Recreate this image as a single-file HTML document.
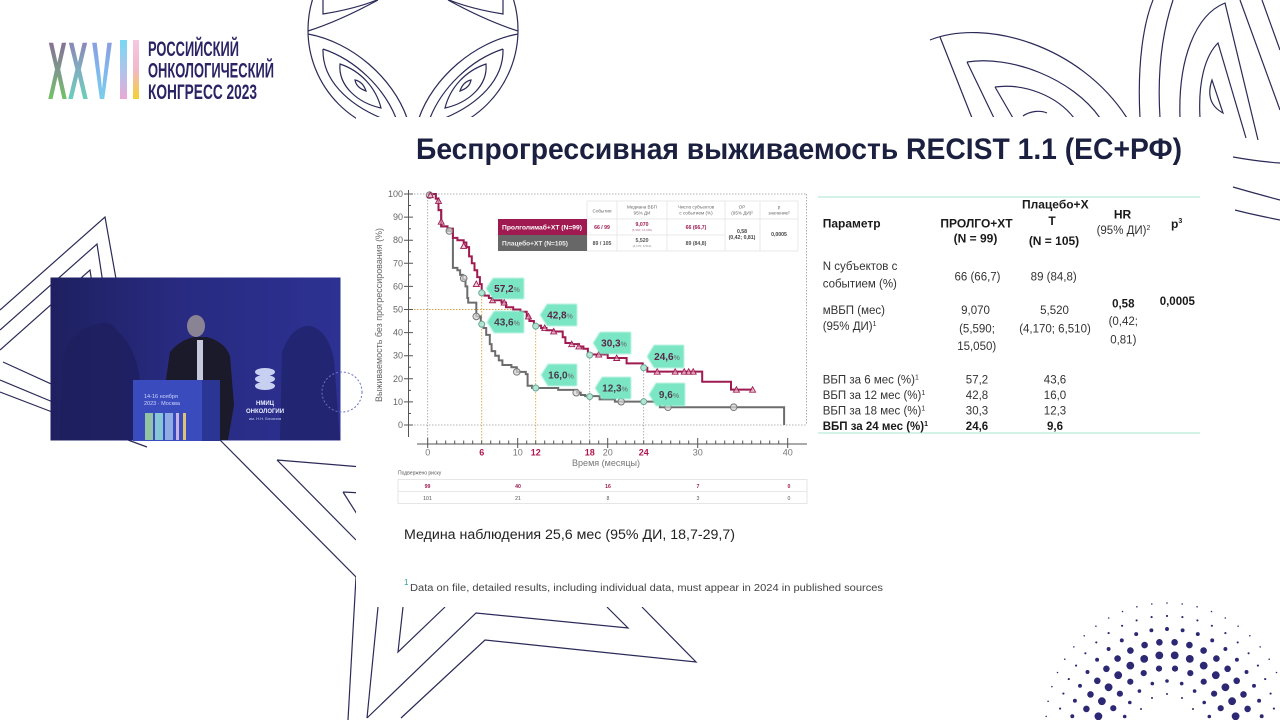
<!DOCTYPE html>
<html><head><meta charset="utf-8">
<style>
html,body{margin:0;padding:0;background:#fff;overflow:hidden;}
svg{display:block;}
text{font-family:"Liberation Sans","DejaVu Sans",sans-serif;}
</style></head>
<body>
<svg width="1280" height="720" viewBox="0 0 1280 720" xmlns="http://www.w3.org/2000/svg">
<defs>
 <linearGradient id="g1" x1="0" y1="0" x2="0" y2="1"><stop offset="0" stop-color="#8c5a9c"/><stop offset="0.5" stop-color="#7d9a8a"/><stop offset="1" stop-color="#6fdc52"/></linearGradient>
 <linearGradient id="g2" x1="0" y1="0" x2="0" y2="1"><stop offset="0" stop-color="#9070b0"/><stop offset="0.5" stop-color="#7fb0c0"/><stop offset="1" stop-color="#5fe0b8"/></linearGradient>
 <linearGradient id="g3" x1="0" y1="0" x2="0" y2="1"><stop offset="0" stop-color="#8f8fd8"/><stop offset="0.5" stop-color="#80b8ec"/><stop offset="1" stop-color="#76dcec"/></linearGradient>
 <linearGradient id="g4" x1="0" y1="0" x2="0" y2="1"><stop offset="0" stop-color="#78d8f2"/><stop offset="0.6" stop-color="#b8c0ea"/><stop offset="1" stop-color="#eaa8d6"/></linearGradient>
 <linearGradient id="g5" x1="0" y1="0" x2="0" y2="1"><stop offset="0" stop-color="#f4c8e4"/><stop offset="0.5" stop-color="#f2b8c8"/><stop offset="1" stop-color="#f5d030"/></linearGradient>
 <linearGradient id="vidL" x1="0" y1="0" x2="1" y2="0"><stop offset="0" stop-color="#1c1d58" stop-opacity=".85"/><stop offset="0.45" stop-color="#1c1d58" stop-opacity=".3"/><stop offset="1" stop-color="#1c1d58" stop-opacity="0"/></linearGradient>
 <filter id="soft" x="-20%" y="-30%" width="140%" height="160%"><feGaussianBlur stdDeviation="0.9"/></filter>
</defs>
<rect width="1280" height="720" fill="#fff"/>

<!-- ORNAMENTS -->
<g fill="none" stroke="#2b2a58" stroke-width="1.2">
 <circle cx="413" cy="30" r="105"/>
 <g>
  <path d="M308,31 C330,24 356,12 378,0"/>
  <path d="M323,0 V14 C342,11 362,6 377,0"/>
  <path d="M308,34 C352,42 393,78 407,118"/>
  <path d="M323,49 C322,80 348,104 381,118 M323,49 C356,60 384,88 396,118"/>
  <path d="M340,64 C338,86 358,103 381,108 C376,88 361,71 340,64Z"/>
  <path d="M355,80 C356,86 360,89 366,91 C364,85 360,81 355,80Z"/>
 </g>
 <g transform="matrix(-1 0 0 1 826 0)">
  <path d="M308,31 C330,24 356,12 378,0"/>
  <path d="M323,0 V14 C342,11 362,6 377,0"/>
  <path d="M308,34 C352,42 393,78 407,118"/>
  <path d="M323,49 C322,80 348,104 381,118 M323,49 C356,60 384,88 396,118"/>
  <path d="M340,64 C338,86 358,103 381,108 C376,88 361,71 340,64Z"/>
  <path d="M355,80 C356,86 360,89 366,91 C364,85 360,81 355,80Z"/>
 </g>
 <path d="M930,40 C985,18 1080,45 1127,118"/>
 <path d="M940,37 L972,118"/>
 <path d="M967,62 C1010,55 1072,78 1100,118 M967,62 L994,118"/>
 <path d="M995,87 C1025,83 1057,96 1074,118 M995,87 L1013,118"/>
 <path d="M1023,116 C1030,111 1040,110 1047,113"/>
 <path d="M1140,118 C1137,62 1144,22 1153,0"/>
 <path d="M1160,118 C1157,70 1163,30 1173,0"/>
 <path d="M1180,118 C1178,60 1195,15 1225,3 L1258,140"/>
 <path d="M1200,118 C1198,82 1205,56 1218,43 L1246,138"/>
 <path d="M1212,80 C1207,95 1210,106 1223,113 L1212,80Z"/>
 <path d="M1240,0 L1280,110"/>
 <path d="M1262,0 L1280,50"/>
 <path d="M1233,157 C1250,160 1265,162 1280,163"/>
 <path d="M1233,187 C1250,192 1265,196 1280,200"/>
 <path d="M1235,210 C1250,214 1265,217 1280,220"/>
 <path d="M0,310 L105,217 L118,290"/>
 <path d="M0,330 L97,244 L104,290"/>
 <path d="M0,350 L90,270 L93,290"/>
 <path d="M3,362 L60,388"/>
 <path d="M0,380 L60,405"/>
 <path d="M0,392 L60,415"/>
 <path d="M128,440 L147,447"/>
 <path d="M220,440 L356,577 L348,720"/>
 <path d="M277,460 L362,467 M277,460 L356,540"/>
 <path d="M343,492 L362,493 M343,492 L362,522"/>
 <path d="M378,607 L367,718"/>
 <path d="M403,607 L398,652 L445,607"/>
 <path d="M367,718 L476,613 L628,628 L607,607"/>
 <path d="M401,718 L485,640 L696,662 L642,607"/>
</g>
<rect x="356" y="117" width="876" height="490" fill="#fff"/>

<!-- LOGO -->
<g font-size="82" font-weight="bold">
 <text x="48" y="99" textLength="19" lengthAdjust="spacingAndGlyphs" fill="url(#g1)">X</text>
 <text x="68" y="99" textLength="20" lengthAdjust="spacingAndGlyphs" fill="url(#g2)">X</text>
 <text x="92" y="99" textLength="20" lengthAdjust="spacingAndGlyphs" fill="url(#g3)">V</text>
 <rect x="120" y="40" width="7" height="59" fill="url(#g4)"/>
 <rect x="133" y="40" width="6" height="59" fill="url(#g5)"/>
</g>
<g font-weight="bold" font-size="21" fill="#2a2465">
 <text x="148" y="56" textLength="91" lengthAdjust="spacingAndGlyphs">РОССИЙСКИЙ</text>
 <text x="148" y="77.5" textLength="126" lengthAdjust="spacingAndGlyphs">ОНКОЛОГИЧЕСКИЙ</text>
 <text x="148" y="99" textLength="109" lengthAdjust="spacingAndGlyphs">КОНГРЕСС 2023</text>
</g>

<!-- VIDEO -->
<g>
 <rect x="50.5" y="277.5" width="290" height="163" fill="#2d3192"/>
 <rect x="50.5" y="277.5" width="290" height="163" fill="url(#vidL)"/>
 <path d="M60,440 L62,360 Q70,330 95,325 Q110,318 118,332 Q135,345 140,380 L145,440Z" fill="#1d1f5e" opacity=".75"/>
 <path d="M280,440 L282,352 Q292,325 310,326 Q328,330 334,360 L340,440Z" fill="#20236a" opacity=".8"/>
 <path d="M163,400 L170,352 Q180,340 194,337 L207,337 Q225,342 230,356 L234,405 L228,440 L163,440Z" fill="#1a1a2a"/>
 <rect x="197" y="340" width="6" height="42" fill="#c6c8dc"/>
 <ellipse cx="196" cy="326" rx="9" ry="11" fill="#8a8394"/>
 <rect x="133" y="380" width="69" height="61" fill="#3a4bbd"/>
 <rect x="202" y="380" width="18" height="61" fill="#2a3594"/>
 <text x="144" y="398" font-size="5.5" fill="#cfd6ff">14-16 ноября</text>
 <text x="144" y="405" font-size="5.5" fill="#cfd6ff">2023 · Москва</text>
 <g opacity=".9">
  <rect x="145" y="413" width="8" height="27" fill="#9cd0a0"/>
  <rect x="155" y="413" width="8" height="27" fill="#8fd4d8"/>
  <rect x="165" y="413" width="8" height="27" fill="#9ab8e8"/>
  <rect x="176" y="413" width="3" height="27" fill="#d8c0e8"/>
  <rect x="183" y="413" width="3" height="27" fill="#f0d070"/>
 </g>
 <g fill="#c8d0f2">
  <ellipse cx="265" cy="372" rx="10" ry="4"/>
  <ellipse cx="265" cy="379" rx="10" ry="4"/>
  <ellipse cx="265" cy="386" rx="10" ry="4"/>
 </g>
 <text x="265" y="405" font-size="6" font-weight="bold" fill="#e8ecff" text-anchor="middle">НМИЦ</text>
 <text x="265" y="413" font-size="6" font-weight="bold" fill="#e8ecff" text-anchor="middle">ОНКОЛОГИИ</text>
 <text x="265" y="420" font-size="4" fill="#c8d0f0" text-anchor="middle">им. Н.Н. Блохина</text>
 <circle cx="342" cy="392" r="20" fill="none" stroke="#6a72c0" stroke-width="1" stroke-dasharray="2 2"/>
</g>

<!-- TITLE -->
<text x="416" y="159" font-size="30" font-weight="bold" fill="#1c2040" textLength="766" lengthAdjust="spacingAndGlyphs">Беспрогрессивная выживаемость RECIST 1.1 (ЕС+РФ)</text>

<!-- CHART -->
<g>
 <g fill="none" stroke="#9a9a9a" stroke-width="0.8" stroke-dasharray="1.5 1.5">
  <path d="M408,194 H807 M806.5,194 V425 M408,425 H807 M427.7,194 V444"/>
  <path d="M589.7,355 V444 M643.7,368 V444"/>
 </g>
 <g fill="none" stroke="#d9a441" stroke-width="0.9" stroke-dasharray="1.5 1.5">
  <path d="M408,309.5 H518 M481.7,293 V444 M535.7,326 V444"/>
 </g>
 <g stroke="#555" stroke-width="1" fill="none">
  <path d="M408.5,190 V437"/>
  <path d="M404,194 H413 M404,217.1 H413 M404,240.2 H413 M404,263.3 H413 M404,286.4 H413 M404,309.5 H413 M404,332.6 H413 M404,355.7 H413 M404,378.8 H413 M404,401.9 H413 M404,425 H413"/>
  <path d="M408,205.5 H411 M408,228.7 H411 M408,251.8 H411 M408,274.9 H411 M408,298 H411 M408,321.1 H411 M408,344.2 H411 M408,367.3 H411 M408,390.4 H411 M408,413.5 H411"/>
  <path d="M417,444 H807"/>
  <path d="M427.7,438 V448 M517.7,438 V448 M607.7,438 V448 M697.7,438 V448 M787.7,438 V448"/>
  <path d="M436.7,440.5V444 M445.7,440.5V444 M454.7,440.5V444 M463.7,440.5V444 M472.7,440.5V444 M481.7,440.5V444 M490.7,440.5V444 M499.7,440.5V444 M508.7,440.5V444 M526.7,440.5V444 M535.7,440.5V444 M544.7,440.5V444 M553.7,440.5V444 M562.7,440.5V444 M571.7,440.5V444 M580.7,440.5V444 M589.7,440.5V444 M598.7,440.5V444 M616.7,440.5V444 M625.7,440.5V444 M634.7,440.5V444 M643.7,440.5V444 M652.7,440.5V444 M661.7,440.5V444 M670.7,440.5V444 M679.7,440.5V444 M688.7,440.5V444 M706.7,440.5V444 M715.7,440.5V444 M724.7,440.5V444 M733.7,440.5V444 M742.7,440.5V444 M751.7,440.5V444 M760.7,440.5V444 M769.7,440.5V444 M778.7,440.5V444"/>
 </g>
 <g font-size="9" fill="#666" text-anchor="end">
  <text x="403" y="197">100</text><text x="403" y="220.1">90</text><text x="403" y="243.2">80</text><text x="403" y="266.3">70</text><text x="403" y="289.4">60</text><text x="403" y="312.5">50</text><text x="403" y="335.6">40</text><text x="403" y="358.7">30</text><text x="403" y="381.8">20</text><text x="403" y="404.9">10</text><text x="403" y="428">0</text>
 </g>
 <text transform="translate(382,315) rotate(-90)" font-size="9" fill="#666" text-anchor="middle" textLength="174" lengthAdjust="spacingAndGlyphs">Выживаемость без прогрессирования (%)</text>
 <g font-size="9" fill="#777" text-anchor="middle">
  <text x="427.7" y="455.5">0</text><text x="517.7" y="455.5">10</text><text x="607.7" y="455.5">20</text><text x="697.7" y="455.5">30</text><text x="787.7" y="455.5">40</text>
 </g>
 <g font-size="9" fill="#b0174f" font-weight="bold" text-anchor="middle">
  <text x="481.7" y="455.5">6</text><text x="535.7" y="455.5">12</text><text x="589.7" y="455.5">18</text><text x="643.7" y="455.5">24</text>
 </g>
 <text x="606" y="466" font-size="9.5" fill="#777" text-anchor="middle" textLength="68" lengthAdjust="spacingAndGlyphs">Время (месяцы)</text>

 <path transform="matrix(9 0 0 -2.31 427.7 425)" vector-effect="non-scaling-stroke" fill="none" stroke="#6c6c6c" stroke-width="2" d="M0 100 H0.9 V98 H1.2 V93 H1.5 V86 H2.2 V84 H2.8 V68 H3.3 V67 H3.6 V65 H3.9 V63 H4.2 V60 H4.4 V55 H4.5 V53 H5.4 V47 H5.9 V44 H6.2 V42 H6.5 V39 H6.9 V35 H7.1 V32 H7.5 V30 H7.9 V28 H8.3 V26 H9.3 V25 H9.9 V23 H10.9 V22 H11.1 V17 H11.6 V16 H14.5 V15.2 H16.6 V14 H17 V13 H17.5 V12.5 H19.1 V11.1 H20.8 V10.1 H25.8 V7.7 H39.6 V0"/>
 <path transform="matrix(9 0 0 -2.31 427.7 425)" vector-effect="non-scaling-stroke" fill="none" stroke="#9e1a50" stroke-width="2" d="M0 100 H0.9 V98 H1.2 V93 H1.5 V86 H2.2 V85 H2.8 V81 H3.3 V80 H4 V79 H4.3 V77 H4.6 V73 H4.9 V70 H5.2 V67 H5.5 V64 H5.8 V61 H6 V57.2 H6.3 V56 H6.8 V55 H7.2 V54 H8.2 V53 H8.7 V51 H9.5 V50 H10.3 V49 H11 V47 H11.3 V45 H11.8 V43 H12.6 V42 H13.2 V41 H14 V40.5 H15 V38 H15.3 V35.5 H16 V35 H16.8 V34 H17.3 V33 H17.8 V31 H18.2 V30.5 H20 V29 H22.1 V26.7 H23.9 V24.8 H24.4 V23.1 H30.5 V18.7 H33.7 V15.3 H36.1"/>
 <g id="markers"></g>

 <g>
  <g fill="#7ae6c4" filter="url(#soft)">
   <polygon points="486,288.5 493,278 524,278 524,299 493,299"/>
   <polygon points="487,322 494,311 524,311 524,333 494,333"/>
   <polygon points="540,315 547,304 577,304 577,326 547,326"/>
   <polygon points="541,375 548,364 577,364 577,386 548,386"/>
   <polygon points="593,343 600,332 631,332 631,354 600,354"/>
   <polygon points="595,388 602,377 631,377 631,399 602,399"/>
   <polygon points="647,356.5 654,345 684,345 684,368 654,368"/>
   <polygon points="649,394.5 656,383 685,383 685,406 656,406"/>
  </g>
  <g font-size="10" font-weight="bold" text-anchor="middle">
   <text x="507" y="292" fill="#5a2548">57,2<tspan font-size="7" fill="#6a8a80">%</tspan></text>
   <text x="507" y="325.5" fill="#4a3a4c">43,6<tspan font-size="7" fill="#6a8a80">%</tspan></text>
   <text x="560" y="318.5" fill="#5a2548">42,8<tspan font-size="7" fill="#6a8a80">%</tspan></text>
   <text x="561" y="378.5" fill="#4a3a4c">16,0<tspan font-size="7" fill="#6a8a80">%</tspan></text>
   <text x="614" y="346.5" fill="#5a2548">30,3<tspan font-size="7" fill="#6a8a80">%</tspan></text>
   <text x="615" y="391.5" fill="#4a3a4c">12,3<tspan font-size="7" fill="#6a8a80">%</tspan></text>
   <text x="667" y="360" fill="#5a2548">24,6<tspan font-size="7" fill="#6a8a80">%</tspan></text>
   <text x="669" y="398" fill="#4a3a4c">9,6<tspan font-size="7" fill="#6a8a80">%</tspan></text>
  </g>
 </g>

 <g>
  <rect x="587" y="201" width="211" height="50" fill="#fff"/>
  <g stroke="#e4e4e4" stroke-width="0.8" fill="none">
   <path d="M587,201 V251 M617,201 V251 M667,201 V251 M725,201 V251 M760,201 V251 M798,201 V251"/>
   <path d="M587,219 H798 M587,235 H725 M587,251 H798 M587,201 H798"/>
  </g>
  <rect x="498" y="219" width="89" height="16" fill="#9e1a50"/>
  <rect x="498" y="235" width="89" height="16" fill="#676767"/>
  <text x="502" y="229.5" font-size="6" font-weight="bold" fill="#fff" textLength="80" lengthAdjust="spacingAndGlyphs">Пролголимаб+ХТ (N=99)</text>
  <text x="502" y="245.5" font-size="6" font-weight="bold" fill="#eee" textLength="66" lengthAdjust="spacingAndGlyphs">Плацебо+ХТ (N=105)</text>
  <g font-size="4.6" fill="#666" text-anchor="middle">
   <text x="602" y="212.5">События</text>
   <text x="642" y="208.5">Медиана ВБП</text><text x="642" y="214.5">95% ДИ</text>
   <text x="696" y="208.5">Число субъектов</text><text x="696" y="214.5">с событием (%)</text>
   <text x="742" y="208.5">ОР</text><text x="742" y="214.5">(95% ДИ)²</text>
   <text x="779" y="208.5">р</text><text x="779" y="214.5">значение²</text>
  </g>
  <g font-size="5.2" font-weight="bold" text-anchor="middle">
   <text x="602" y="229" fill="#9e1a50">66 / 99</text>
   <text x="642" y="226" fill="#9e1a50">9,070</text>
   <text x="642" y="231" fill="#b07090" font-size="3" font-weight="normal">(5,590; 15,050)</text>
   <text x="696" y="229" fill="#9e1a50">66 (66,7)</text>
   <text x="602" y="245" fill="#555">89 / 105</text>
   <text x="642" y="242" fill="#555">5,520</text>
   <text x="642" y="247" fill="#888" font-size="3" font-weight="normal">(4,170; 6,510)</text>
   <text x="696" y="245" fill="#555">89 (84,8)</text>
   <text x="742" y="233" fill="#444">0,58</text>
   <text x="742" y="239" fill="#444">(0,42; 0,81)</text>
   <text x="779" y="236" fill="#444">0,0005</text>
  </g>
 </g>

 <text x="398" y="474.5" font-size="5" fill="#555">Подвержено риску</text>
 <g fill="none" stroke="#e0e0e0" stroke-width="0.8">
  <rect x="398" y="479.5" width="409" height="24"/>
  <path d="M398,491.5 H807"/>
 </g>
 <g font-size="5.2" text-anchor="middle" font-weight="bold" fill="#9e1a50">
  <text x="427.5" y="488">99</text><text x="518" y="488">40</text><text x="608" y="488">16</text><text x="698" y="488">7</text><text x="789" y="488">0</text>
 </g>
 <g font-size="5.2" text-anchor="middle" fill="#555">
  <text x="427.5" y="500">101</text><text x="518" y="500">21</text><text x="608" y="500">8</text><text x="698" y="500">3</text><text x="789" y="500">0</text>
 </g>
</g>

<!-- RIGHT TABLE -->
<g>
 <path d="M818,197 H1200" stroke="#d4f3e7" stroke-width="2"/>
 <path d="M818,433 H1200" stroke="#d4f3e7" stroke-width="2"/>
 <g font-size="12" font-weight="bold" fill="#1a1a1a">
  <text x="822.7" y="227.5">Параметр</text>
  <text x="976.5" y="227.5" text-anchor="middle">ПРОЛГО+ХТ</text>
  <text x="975.5" y="242.5" text-anchor="middle">(N = 99)</text>
  <text x="1055.3" y="208.5" text-anchor="middle">Плацебо+Х</text>
  <text x="1052" y="225" text-anchor="middle">Т</text>
  <text x="1054" y="245" text-anchor="middle">(N = 105)</text>
  <text x="1122.5" y="218.5" text-anchor="middle">HR</text>
  <text x="1171" y="228">р<tspan font-size="7" dy="-5">3</tspan></text>
 </g>
 <text x="1123.5" y="234" font-size="11.5" fill="#333" text-anchor="middle">(95% ДИ)<tspan font-size="7" dy="-4">2</tspan></text>
 <g font-size="11.5" fill="#333">
  <text x="822.7" y="270">N субъектов с</text>
  <text x="822.7" y="287.3">событием (%)</text>
  <text x="977.5" y="280.7" text-anchor="middle">66 (66,7)</text>
  <text x="1053.7" y="280.7" text-anchor="middle">89 (84,8)</text>
  <text x="822.7" y="314">мВБП (мес)</text>
  <text x="822.7" y="330">(95% ДИ)<tspan font-size="7" dy="-4">1</tspan></text>
  <text x="975.5" y="314" text-anchor="middle">9,070</text>
  <text x="977" y="332.3" text-anchor="middle">(5,590;</text>
  <text x="976.7" y="350" text-anchor="middle">15,050)</text>
  <text x="1054.5" y="314" text-anchor="middle">5,520</text>
  <text x="1055" y="332.3" text-anchor="middle">(4,170; 6,510)</text>
  <text x="1123.3" y="325" text-anchor="middle">(0,42;</text>
  <text x="1123.3" y="343.3" text-anchor="middle">0,81)</text>
  <text x="822.7" y="383.3">ВБП за 6 мес (%)<tspan font-size="7" dy="-4">1</tspan></text>
  <text x="822.7" y="399">ВБП за 12 мес (%)<tspan font-size="7" dy="-4">1</tspan></text>
  <text x="822.7" y="414.5">ВБП за 18 мес (%)<tspan font-size="7" dy="-4">1</tspan></text>
  <text x="977" y="383.3" text-anchor="middle">57,2</text>
  <text x="977" y="399" text-anchor="middle">42,8</text>
  <text x="977" y="414.5" text-anchor="middle">30,3</text>
  <text x="1055" y="383.3" text-anchor="middle">43,6</text>
  <text x="1055" y="399" text-anchor="middle">16,0</text>
  <text x="1055" y="414.5" text-anchor="middle">12,3</text>
 </g>
 <g font-size="11.5" font-weight="bold" fill="#1a1a1a">
  <text x="1123.3" y="307.3" text-anchor="middle">0,58</text>
  <text x="1177.3" y="305" text-anchor="middle">0,0005</text>
  <text x="822.7" y="430">ВБП за 24 мес (%)<tspan font-size="7" dy="-4">1</tspan></text>
  <text x="977" y="430" text-anchor="middle">24,6</text>
  <text x="1055" y="430" text-anchor="middle">9,6</text>
 </g>
</g>

<text x="404" y="539" font-size="13.5" fill="#222" textLength="331" lengthAdjust="spacingAndGlyphs">Медина наблюдения 25,6 мес (95% ДИ, 18,7-29,7)</text>
<text x="404" y="585" font-size="8" fill="#2a9a9a">1</text>
<text x="410" y="591" font-size="10" fill="#444" textLength="473" lengthAdjust="spacingAndGlyphs">Data on file, detailed results, including individual data, must appear in 2024 in published sources</text>

<g id="dots" fill="#2d2873"></g>
</svg>
<script>
(function(){
 var X=function(m){return 427.7+9*m;}, Y=function(p){return 425-2.31*p;};
 var s='';
 var gc=[[0.2,99.5],[2.4,84],[4,63.5],[5.4,47],[9.9,23],[16.5,14],[21.5,10.1],[26.7,7.7],[34,7.7]];
 gc.forEach(function(a){s+='<circle cx="'+X(a[0])+'" cy="'+Y(a[1])+'" r="3.3" fill="#d6d6d6" fill-opacity=".7" stroke="#777" stroke-width="1"/>';});
 var rt=[[0.3,99.5],[1.2,97],[1.5,88],[4,77.5],[5.4,61],[7.2,54],[8.5,53],[11.2,47],[13,42],[14,40.5],[16,35],[16.8,34],[19,30.5],[21,29],[25.5,23.1],[27.5,23.1],[28.5,23.1],[29,23.1],[29.5,23.1],[34.3,15.3],[36.1,15.3]];
 rt.forEach(function(a){var x=X(a[0]),y=Y(a[1]);s+='<polygon points="'+(x-3)+','+(y+2.5)+' '+(x+3)+','+(y+2.5)+' '+x+','+(y-3)+'" fill="#e8b0c8" fill-opacity=".6" stroke="#9e1a50" stroke-width="0.9"/>';});
 var ic=[[6,57.2],[6,43.6],[12,42.8],[12,16],[18,30.3],[18,12.3],[24,24.8],[24,10.1]];
 ic.forEach(function(a){s+='<circle cx="'+X(a[0])+'" cy="'+Y(a[1])+'" r="3" fill="#b2e6d2" stroke="#6aa898" stroke-width="1"/>';});
 document.getElementById('markers').innerHTML=s;
 var d='', cx=1167, cy=724;
 for(var k=0;k<8;k++){
  var r=30+13*k;
  var n=Math.round(Math.PI*r/15.5)*2;
  var off=(k%2)*Math.PI/n;
  for(var i=0;i<n;i++){
   var a=off+2*Math.PI*i/n;
   var x=cx+r*Math.cos(a), y=cy-r*Math.sin(a);
   if(y>723||x>1282) continue;
   var rr=0.7+3.2*Math.exp(-Math.pow((r-70)/26,2));
   d+='<circle cx="'+x.toFixed(1)+'" cy="'+y.toFixed(1)+'" r="'+rr.toFixed(2)+'"/>';
  }
 }
 document.getElementById('dots').innerHTML=d;
})();
</script>
</body></html>
